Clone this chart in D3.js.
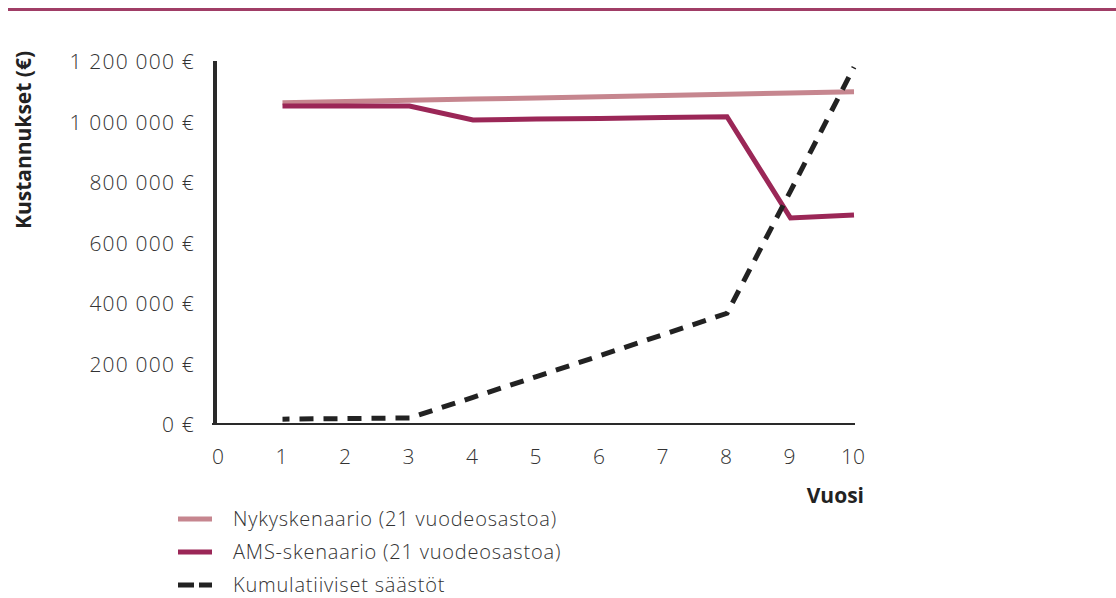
<!DOCTYPE html>
<html>
<head>
<meta charset="utf-8">
<script src="https://cdn.jsdelivr.net/npm/d3@7"></script>
<style>
  html, body { margin: 0; padding: 0; background: #fff; }
  svg { display: block; }
  .lbl { font-family: "Open Sans", sans-serif; font-weight: 300; fill: #333; }
  .ttl { font-family: "Open Sans", sans-serif; font-weight: 700; fill: #222; }
</style>
</head>
<body>
<svg id="chart" width="1116" height="598"></svg>
<script>
// Years on the horizontal axis
const years = [1, 2, 3, 4, 5, 6, 7, 8, 9, 10];
const xTicks = [0, 1, 2, 3, 4, 5, 6, 7, 8, 9, 10];
const yTicks = [0, 200000, 400000, 600000, 800000, 1000000, 1200000];

// Annual costs (€)
const nykyskenaario = [1062000, 1066000, 1070000, 1074000, 1078000, 1082000, 1086000, 1090000, 1094000, 1098000];
const amsSkenaario  = [1051000, 1051000, 1051000, 1005000, 1008000, 1010000, 1013000, 1016000, 681000, 691000];
// Cumulative savings (€)
const saastot       = [16000, 18000, 20000, 88000, 157000, 226000, 296000, 366000, 770000, 1180000];

const seriesNames = [
  "Nykyskenaario (21 vuodeosastoa)",
  "AMS-skenaario (21 vuodeosastoa)",
  "Kumulatiiviset säästöt"
];

const colors = { nyky: "#c6868f", ams: "#9b2757", save: "#222222", axis: "#2a2a2a", rule: "#a03d66" };

const svg = d3.select("#chart");

// Header rule
svg.append("rect").attr("x", 8).attr("y", 8).attr("width", 1108).attr("height", 3).attr("fill", colors.rule);

const x = d3.scaleLinear().domain([0, 10]).range([219, 854]);
const y = d3.scaleLinear().domain([0, 1200000]).range([424, 61]);

// Y tick labels
svg.append("g").selectAll("text").data(yTicks).join("text")
  .attr("class", "lbl")
  .attr("x", 195)
  .attr("y", d => y(d) + 1)
  .attr("dy", "0.35em")
  .attr("text-anchor", "end")
  .attr("font-size", 21)
  .attr("letter-spacing", 1.2)
  .text(d => d === 0 ? "0 €" : d3.format(",")(d).replace(/,/g, " ") + " €");

// X tick labels
svg.append("g").selectAll("text").data(xTicks).join("text")
  .attr("class", "lbl")
  .attr("x", d => x(d) - 1)
  .attr("y", 457)
  .attr("dy", "0.35em")
  .attr("text-anchor", "middle")
  .attr("font-size", 21)
  .text(d => d);

// Axes
svg.append("line")
  .attr("x1", 212).attr("x2", x(10) + 1)
  .attr("y1", y(0)).attr("y2", y(0))
  .attr("stroke", colors.axis).attr("stroke-width", 2);
svg.append("line")
  .attr("x1", 215).attr("x2", 215)
  .attr("y1", y(0) + 1).attr("y2", y(1200000))
  .attr("stroke", colors.axis).attr("stroke-width", 4);

// Axis titles
svg.append("text")
  .attr("class", "ttl")
  .attr("transform", "translate(31,140) rotate(-90)")
  .attr("text-anchor", "middle")
  .attr("font-size", 21)
  .text("Kustannukset (€)");
svg.append("text")
  .attr("class", "ttl")
  .attr("x", 864).attr("y", 496)
  .attr("dy", "0.35em")
  .attr("text-anchor", "end")
  .attr("font-size", 21)
  .text("Vuosi");

// Lines
const line = d3.line().x((d, i) => x(years[i])).y(d => y(d));

svg.append("path").datum(nykyskenaario)
  .attr("d", line).attr("fill", "none")
  .attr("stroke", colors.nyky).attr("stroke-width", 5);
svg.append("path").datum(amsSkenaario)
  .attr("d", line).attr("fill", "none")
  .attr("stroke", colors.ams).attr("stroke-width", 5);
svg.append("path").datum(saastot)
  .attr("d", line).attr("fill", "none")
  .attr("stroke", colors.save).attr("stroke-width", 5)
  .attr("stroke-dasharray", "14,10").attr("stroke-dashoffset", 7);

// Legend
const legend = svg.append("g");
const legendRows = [
  { name: seriesNames[0], color: colors.nyky, dash: null },
  { name: seriesNames[1], color: colors.ams, dash: null },
  { name: seriesNames[2], color: colors.save, dash: "16,5" }
];
const rowY = d3.scalePoint().domain(d3.range(legendRows.length)).range([519, 585]);
legendRows.forEach((r, i) => {
  legend.append("line")
    .attr("x1", 178).attr("x2", 212)
    .attr("y1", rowY(i)).attr("y2", rowY(i))
    .attr("stroke", r.color).attr("stroke-width", 5)
    .attr("stroke-dasharray", r.dash);
  legend.append("text")
    .attr("class", "lbl")
    .attr("x", 233).attr("y", rowY(i))
    .attr("dy", "0.35em")
    .attr("font-size", 20)
    .attr("letter-spacing", 0.8)
    .text(r.name);
});
</script>
</body>
</html>
